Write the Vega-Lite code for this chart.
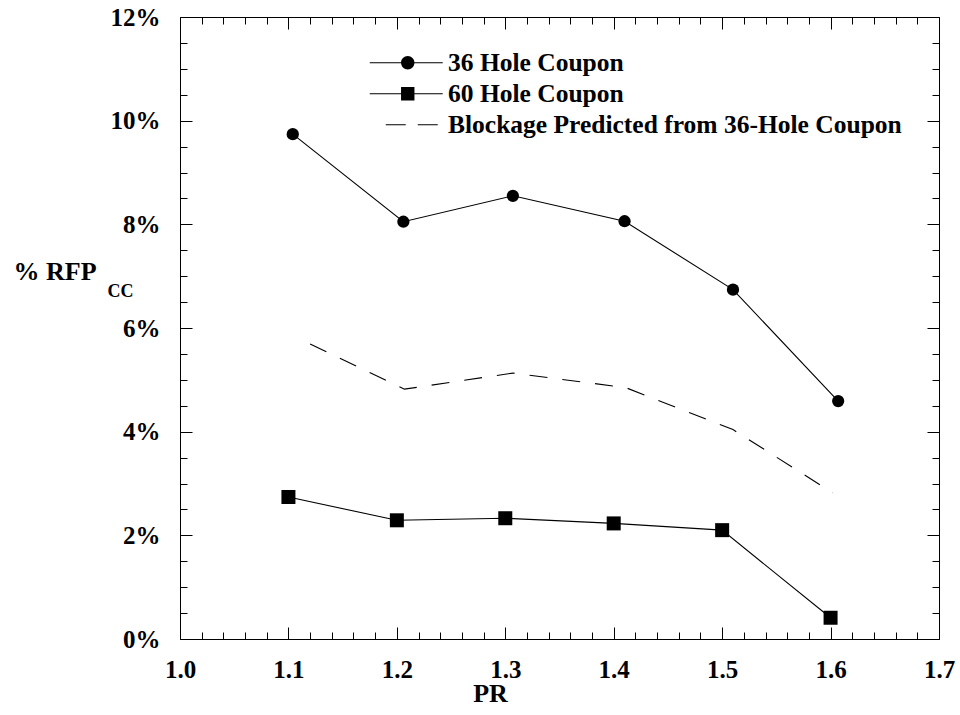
{
  "$schema": "https://vega.github.io/schema/vega-lite/v6.json",
  "width": 759,
  "height": 622,
  "autosize": "none",
  "padding": {"left": 180, "top": 17, "right": 21, "bottom": 76},
  "background": "white",
  "data": {
    "values": [
      {"pr": 1.104, "rfp": 9.74, "series": "36 Hole Coupon"},
      {"pr": 1.206, "rfp": 8.05, "series": "36 Hole Coupon"},
      {"pr": 1.307, "rfp": 8.55, "series": "36 Hole Coupon"},
      {"pr": 1.41, "rfp": 8.06, "series": "36 Hole Coupon"},
      {"pr": 1.51, "rfp": 6.74, "series": "36 Hole Coupon"},
      {"pr": 1.607, "rfp": 4.59, "series": "36 Hole Coupon"},
      {"pr": 1.1, "rfp": 2.74, "series": "60 Hole Coupon"},
      {"pr": 1.2, "rfp": 2.29, "series": "60 Hole Coupon"},
      {"pr": 1.3, "rfp": 2.33, "series": "60 Hole Coupon"},
      {"pr": 1.4, "rfp": 2.23, "series": "60 Hole Coupon"},
      {"pr": 1.5, "rfp": 2.1, "series": "60 Hole Coupon"},
      {"pr": 1.6, "rfp": 0.41, "series": "60 Hole Coupon"},
      {"pr": 1.12, "rfp": 5.69, "series": "Blockage Predicted from 36-Hole Coupon"},
      {"pr": 1.207, "rfp": 4.82, "series": "Blockage Predicted from 36-Hole Coupon"},
      {"pr": 1.307, "rfp": 5.13, "series": "Blockage Predicted from 36-Hole Coupon"},
      {"pr": 1.411, "rfp": 4.85, "series": "Blockage Predicted from 36-Hole Coupon"},
      {"pr": 1.51, "rfp": 4.04, "series": "Blockage Predicted from 36-Hole Coupon"},
      {"pr": 1.602, "rfp": 2.82, "series": "Blockage Predicted from 36-Hole Coupon"}
    ]
  },
  "layer": [
    {
      "transform": [{"filter": "datum.series !== 'Blockage Predicted from 36-Hole Coupon'"}],
      "mark": {"type": "line", "color": "black", "strokeWidth": 1.1},
      "encoding": {
        "x": {
          "field": "pr", "type": "quantitative",
          "scale": {"domain": [1.0, 1.7], "nice": false, "zero": false},
          "axis": {
            "orient": "bottom",
            "values": [1.0, 1.02, 1.04, 1.06, 1.08, 1.1, 1.12, 1.14, 1.16, 1.18, 1.2, 1.22, 1.24, 1.26, 1.28, 1.3, 1.32, 1.34, 1.36, 1.38, 1.4, 1.42, 1.44, 1.46, 1.48, 1.5, 1.52, 1.54, 1.56, 1.58, 1.6, 1.62, 1.64, 1.66, 1.68, 1.7],
            "labelExpr": "abs(datum.value * 10 - round(datum.value * 10)) < 0.001 ? format(datum.value, '.1f') : ''",
            "tickSize": {"condition": {"test": "abs(datum.value * 10 - round(datum.value * 10)) < 0.001", "value": -12}, "value": -7},
            "labelPadding": 30,
            "title": "PR",
            "titleX": 310,
            "titleY": 62,
            "titleAlign": "center",
            "titleBaseline": "alphabetic"
          }
        },
        "y": {
          "field": "rfp", "type": "quantitative",
          "scale": {"domain": [0, 12], "nice": false, "zero": false},
          "axis": {
            "orient": "left",
            "values": [0, 0.5, 1, 1.5, 2, 2.5, 3, 3.5, 4, 4.5, 5, 5.5, 6, 6.5, 7, 7.5, 8, 8.5, 9, 9.5, 10, 10.5, 11, 11.5, 12],
            "labelExpr": "datum.value % 2 === 0 ? datum.value + '%' : ''",
            "tickSize": {"condition": {"test": "datum.value % 2 === 0", "value": -12}, "value": -7},
            "labelPadding": 32,
            "title": "% RFP",
            "titleAngle": 0,
            "titleX": -167,
            "titleY": 262,
            "titleAlign": "left",
            "titleBaseline": "alphabetic"
          }
        },
        "detail": {"field": "series"}
      }
    },
    {
      "transform": [{"filter": "datum.series === 'Blockage Predicted from 36-Hole Coupon'"}],
      "mark": {"type": "line", "color": "black", "strokeWidth": 1.1, "strokeDash": [18, 15]},
      "encoding": {
        "x": {"field": "pr", "type": "quantitative", "axis": null},
        "y": {"field": "rfp", "type": "quantitative", "axis": null}
      }
    },
    {
      "transform": [{"filter": "datum.series === '36 Hole Coupon'"}],
      "mark": {"type": "point", "shape": "circle", "filled": true, "color": "black", "opacity": 1, "size": 150},
      "encoding": {
        "x": {
          "field": "pr", "type": "quantitative",
          "axis": {
            "orient": "top",
            "values": [1.0, 1.02, 1.04, 1.06, 1.08, 1.1, 1.12, 1.14, 1.16, 1.18, 1.2, 1.22, 1.24, 1.26, 1.28, 1.3, 1.32, 1.34, 1.36, 1.38, 1.4, 1.42, 1.44, 1.46, 1.48, 1.5, 1.52, 1.54, 1.56, 1.58, 1.6, 1.62, 1.64, 1.66, 1.68, 1.7],
            "labels": false,
            "tickSize": {"condition": {"test": "abs(datum.value * 10 - round(datum.value * 10)) < 0.001", "value": -12}, "value": -7},
            "title": "CC",
            "titleFontSize": 18,
            "titleAngle": 0,
            "titleX": -73,
            "titleY": 279,
            "titleAlign": "left",
            "titleBaseline": "alphabetic"
          }
        },
        "y": {
          "field": "rfp", "type": "quantitative",
          "axis": {
            "orient": "right",
            "values": [0, 0.5, 1, 1.5, 2, 2.5, 3, 3.5, 4, 4.5, 5, 5.5, 6, 6.5, 7, 7.5, 8, 8.5, 9, 9.5, 10, 10.5, 11, 11.5, 12],
            "labels": false,
            "tickSize": {"condition": {"test": "datum.value % 2 === 0", "value": -12}, "value": -7},
            "title": null
          }
        }
      }
    },
    {
      "transform": [{"filter": "datum.series === '60 Hole Coupon'"}],
      "mark": {"type": "point", "shape": "square", "filled": true, "color": "black", "opacity": 1, "size": 196},
      "encoding": {
        "x": {"field": "pr", "type": "quantitative", "axis": null},
        "y": {"field": "rfp", "type": "quantitative", "axis": null}
      }
    },
    {
      "transform": [{"filter": "false"}],
      "mark": {"type": "point", "filled": true, "color": "black", "opacity": 1},
      "encoding": {
        "x": {"field": "pr", "type": "quantitative", "axis": null},
        "y": {"field": "rfp", "type": "quantitative", "axis": null},
        "shape": {
          "field": "series", "type": "nominal",
          "scale": {
            "domain": ["36 Hole Coupon", "60 Hole Coupon", "Blockage Predicted from 36-Hole Coupon"],
            "range": [
              "M-3.65,-0.055H3.65V0.055H-3.65ZM-0.52,0A0.67,0.67,0,1,1,0.82,0A0.67,0.67,0,1,1,-0.52,0Z",
              "M-3.65,-0.055H3.65V0.055H-3.65ZM-0.52,-0.67H0.82V0.67H-0.52Z",
              "M-2.05,-0.055H-0.05V0.055H-2.05ZM1.15,-0.055H3.15V0.055H1.15Z"
            ]
          },
          "legend": {
            "orient": "none",
            "legendX": 187,
            "legendY": 33,
            "title": null,
            "padding": 0,
            "symbolSize": 400,
            "symbolOffset": 26.5,
            "labelOffset": 29,
            "rowPadding": 4,
            "symbolFillColor": "black",
            "symbolOpacity": 1,
            "labelLimit": 0
          }
        }
      }
    }
  ],
  "resolve": {"axis": {"x": "independent", "y": "independent"}},
  "config": {
    "view": {"stroke": null},
    "font": "Liberation Serif",
    "axis": {
      "grid": false,
      "domainColor": "black",
      "domainWidth": 1,
      "tickColor": "black",
      "tickWidth": 1,
      "labelFont": "Liberation Serif",
      "labelFontSize": 25,
      "labelFontWeight": "bold",
      "labelColor": "black",
      "labelOverlap": false,
      "labelFlush": false,
      "labelBound": false,
      "titleFont": "Liberation Serif",
      "titleFontSize": 26,
      "titleFontWeight": "bold",
      "titleColor": "black"
    },
    "legend": {
      "labelFont": "Liberation Serif",
      "labelFontSize": 25.5,
      "labelFontWeight": "bold",
      "labelColor": "black"
    }
  }
}
